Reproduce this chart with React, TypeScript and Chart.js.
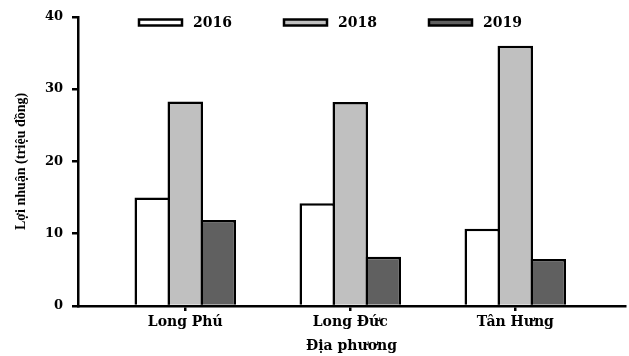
import { useEffect, useRef } from "react";
import { Chart, registerables } from "chart.js";

Chart.register(...registerables);

// Profit per locality (million VND) by survey year
const places = ["Long Phú", "Long Đức", "Tân Hưng"];
const years = ["2016", "2018", "2019"];
const profit2016 = [15.0, 14.2, 10.7];
const profit2018 = [28.3, 28.2, 36.0];
const profit2019 = [11.9, 6.8, 6.5];
const yTicks = [0, 10, 20, 30, 40];

const fills = ["#ffffff", "#c0c0c0", "#606060"];
const serifBold = { family: "'DejaVu Serif', serif", weight: "bold" as const };

// Legend drawn inside the plot, along its top edge
const insetLegend = {
  id: "insetLegend",
  afterDraw(chart: any) {
    const { ctx, chartArea } = chart;
    const boxW = 43;
    const boxH = 6;
    const step = 145;
    const x0 = chartArea.left + 61;
    const yMid = 22.5;
    ctx.save();
    ctx.font = "bold 14px 'DejaVu Serif', serif";
    ctx.textBaseline = "middle";
    ctx.textAlign = "left";
    chart.data.datasets.forEach((ds: any, i: number) => {
      const x = x0 + i * step;
      ctx.fillStyle = ds.backgroundColor;
      ctx.fillRect(x, yMid - boxH / 2, boxW, boxH);
      ctx.lineWidth = 2.5;
      ctx.strokeStyle = "#000";
      ctx.strokeRect(x, yMid - boxH / 2, boxW, boxH);
      ctx.fillStyle = "#000";
      ctx.fillText(ds.label, x + boxW + 11, yMid + 0.5);
    });
    ctx.restore();
  },
};

export default function App() {
  const canvasRef = useRef<HTMLCanvasElement | null>(null);

  useEffect(() => {
    const canvas = canvasRef.current;
    if (!canvas) return;
    const series = [profit2016, profit2018, profit2019];
    const chart = new Chart(canvas, {
      type: "bar",
      data: {
        datasets: series.map((vals, i) => ({
          label: years[i],
          data: vals.map((y, j) => ({ x: j, y })),
          backgroundColor: fills[i],
          borderColor: "#000",
          borderWidth: 2.5,
          borderSkipped: "start",
          categoryPercentage: 0.6,
          barPercentage: 1.076,
        })),
      },
      options: {
        animation: false,
        responsive: true,
        maintainAspectRatio: false,
        layout: { padding: { top: 15, right: 4, left: 0, bottom: 0 } },
        plugins: {
          legend: { display: false },
          tooltip: { enabled: false },
        },
        scales: {
          x: {
            type: "linear",
            min: -0.65,
            max: 2.665,
            offset: false,
            z: 1,
            afterBuildTicks: (s: any) => {
              s.ticks = places.map((_, i) => ({ value: i }));
            },
            afterFit: (s: any) => {
              s.height = 50;
            },
            ticks: {
              callback: (v: any) => places[v] ?? "",
              font: { ...serifBold, size: 14 },
              color: "#000",
              padding: 3,
              maxRotation: 0,
              autoSkip: false,
            },
            grid: {
              offset: false,
              drawOnChartArea: false,
              drawTicks: true,
              tickLength: 5,
              color: "#000",
              lineWidth: 2.5,
            },
            border: { display: true, color: "#000", width: 2.5 },
            title: {
              display: true,
              text: "Địa phương",
              font: { ...serifBold, size: 14 },
              color: "#000",
              padding: { top: 0, bottom: 1 },
            },
          },
          y: {
            type: "linear",
            min: 0,
            max: 40,
            afterBuildTicks: (s: any) => {
              s.ticks = yTicks.map((v) => ({ value: v }));
            },
            afterFit: (s: any) => {
              s.width = 78;
            },
            ticks: {
              font: { ...serifBold, size: 13 },
              color: "#000",
              padding: 9,
            },
            grid: {
              drawOnChartArea: false,
              drawTicks: true,
              tickLength: 6,
              color: "#000",
              lineWidth: 2.5,
            },
            border: { display: true, color: "#000", width: 2.5 },
            title: {
              display: true,
              text: "Lợi nhuận (triệu đồng)",
              font: { family: "'Liberation Serif', serif", weight: "bold", size: 14 },
              color: "#000",
              padding: { top: 13, bottom: 0 },
            },
          },
        },
      },
      plugins: [insetLegend],
    });
    return () => chart.destroy();
  }, []);

  return (
    <div style={{ position: "fixed", left: 0, top: 0, width: 629, height: 356, background: "#fff" }}>
      <canvas ref={canvasRef} />
    </div>
  );
}
